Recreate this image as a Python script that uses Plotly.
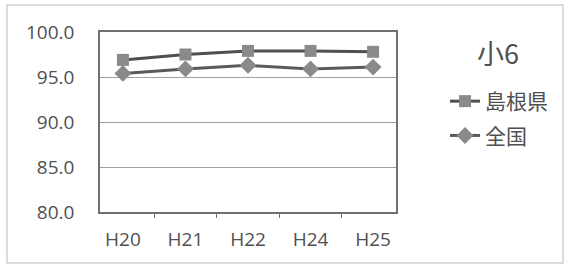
import plotly.graph_objects as go

categories = ["H20", "H21", "H22", "H24", "H25"]
shimane = [96.9, 97.5, 97.9, 97.9, 97.8]
national = [95.4, 95.9, 96.3, 95.9, 96.1]
y_ticks = [80, 85, 90, 95, 100]
y_tick_labels = ["80.0", "85.0", "90.0", "95.0", "100.0"]
chart_title = "小6"

W, H = 567, 266
L, R, T, B = 100, 396, 32, 212

fig = go.Figure()
fig.add_trace(go.Scatter(
    x=categories, y=shimane, name="島根県", mode="lines+markers",
    line=dict(color="#4f4f4f", width=3),
    marker=dict(symbol="square", size=12, color="#8a8a8a"),
    legendgroup="a",
))
fig.add_trace(go.Scatter(
    x=categories, y=national, name="全国", mode="lines+markers",
    line=dict(color="#5a5a5a", width=3),
    marker=dict(symbol="diamond", size=13, color="#8a8a8a"),
    legendgroup="b",
))

pw, ph = R - L, B - T
def px_x(v):
    return (v - L) / pw
def px_y(v):
    return (B - v) / ph

fig.update_layout(
    width=W, height=H,
    margin=dict(l=L, r=W - R, t=T, b=H - B, pad=0, autoexpand=False),
    paper_bgcolor="white", plot_bgcolor="white",
    font=dict(family="Open Sans, Noto Sans CJK JP", color="#505050", size=18),
    showlegend=True,
    legend=dict(
        x=px_x(445), y=px_y(81), xanchor="left", yanchor="top",
        font=dict(family="Noto Sans CJK JP", size=21, color="#505050"),
        tracegroupgap=4, traceorder="grouped",
        bgcolor="rgba(0,0,0,0)",
    ),
    xaxis=dict(
        type="category", showline=True, linecolor="#707070", linewidth=1.5,
        mirror=True, ticks="outside", ticklen=4, tickcolor="#707070",
        tickson="boundaries", showgrid=False, automargin=False,
        tickfont=dict(size=19, color="#505050"),
        ticklabelstandoff=9,
    ),
    yaxis=dict(
        range=[80, 100], tickvals=y_ticks, ticktext=y_tick_labels,
        showline=True, linecolor="#707070", linewidth=1.5, mirror=True,
        showgrid=True, gridcolor="#a0a0a0", gridwidth=1, automargin=False,
        ticks="", ticklabelstandoff=20,
        tickfont=dict(size=19, color="#505050"),
        zeroline=False,
    ),
    annotations=[dict(
        text=chart_title, xref="paper", yref="paper",
        x=px_x(498), y=px_y(52), xanchor="center", yanchor="middle",
        showarrow=False, font=dict(family="Noto Sans CJK JP", size=27, color="#505050"),
    )],
    shapes=[dict(
        type="rect", xref="paper", yref="paper",
        x0=px_x(7), x1=px_x(563), y0=px_y(263), y1=px_y(5),
        line=dict(color="#d0d0d0", width=1.5), layer="below",
    )],
)

fig.write_html(
    "out.html",
    config={"displayModeBar": False},
    post_script="document.body.style.margin='0px';document.body.style.overflow='hidden';",
)
